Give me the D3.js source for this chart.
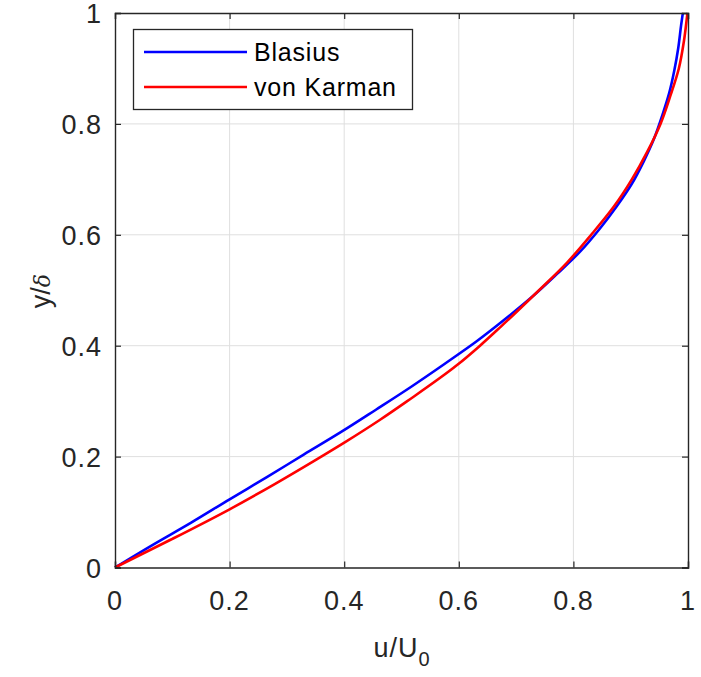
<!DOCTYPE html>
<html>
<head>
<meta charset="utf-8">
<script src="https://cdn.jsdelivr.net/npm/d3@7"></script>
<style>
  body { margin: 0; background: #fff; }
  svg { display: block; font-family: "Liberation Sans", Arial, sans-serif; }
</style>
</head>
<body>
<div id="chart"></div>
<script>
// Blasius profile (u/U0, y/delta)
const blasiusU = [0, 0.066, 0.133, 0.200, 0.265, 0.330, 0.394, 0.456, 0.517, 0.575, 0.630, 0.681, 0.729, 0.772, 0.812, 0.846, 0.876, 0.902, 0.923, 0.941, 0.955, 0.967, 0.976, 0.983, 0.988, 0.991];
const blasiusY = [0, 0.041, 0.081, 0.123, 0.163, 0.204, 0.244, 0.285, 0.326, 0.367, 0.407, 0.448, 0.489, 0.530, 0.570, 0.611, 0.652, 0.692, 0.733, 0.774, 0.815, 0.855, 0.896, 0.937, 0.978, 1.0];

// von Karman profile
const karmanU = [0, 0.097, 0.200, 0.278, 0.352, 0.403, 0.462, 0.510, 0.597, 0.637, 0.673, 0.722, 0.740, 0.789, 0.831, 0.870, 0.902, 0.929, 0.952, 0.969, 0.984, 0.993, 0.999];
const karmanY = [0, 0.050, 0.105, 0.150, 0.195, 0.227, 0.266, 0.300, 0.365, 0.400, 0.434, 0.482, 0.500, 0.550, 0.600, 0.650, 0.700, 0.750, 0.800, 0.850, 0.900, 0.950, 1.0];

const xTicks = [0, 0.2, 0.4, 0.6, 0.8, 1];
const yTicks = [0, 0.2, 0.4, 0.6, 0.8, 1];
const xTickLabels = ["0", "0.2", "0.4", "0.6", "0.8", "1"];
const yTickLabels = ["0", "0.2", "0.4", "0.6", "0.8", "1"];

const seriesNames = ["Blasius", "von Karman"];
const seriesColors = ["#0000ff", "#ff0000"];

const W = 701, H = 677;
const plot = { left: 115, right: 688, top: 13, bottom: 567.5 };

const svg = d3.select("#chart")
  .append("svg")
  .attr("width", W)
  .attr("height", H);

const x = d3.scaleLinear().domain([0, 1]).range([plot.left, plot.right]);
const y = d3.scaleLinear().domain([0, 1]).range([plot.bottom, plot.top]);

const axisColor = "#262626";
const tickFont = 27;

// grid
svg.append("g")
  .selectAll("line")
  .data(xTicks.slice(1, -1))
  .enter()
  .append("line")
  .attr("x1", d => x(d)).attr("x2", d => x(d))
  .attr("y1", plot.top).attr("y2", plot.bottom)
  .attr("stroke", "#dfdfdf")
  .attr("stroke-width", 1);

svg.append("g")
  .selectAll("line")
  .data(yTicks.slice(1, -1))
  .enter()
  .append("line")
  .attr("y1", d => y(d)).attr("y2", d => y(d))
  .attr("x1", plot.left).attr("x2", plot.right)
  .attr("stroke", "#dfdfdf")
  .attr("stroke-width", 1);

// curves
const series = [
  blasiusU.map((u, i) => ({ u: u, y: blasiusY[i] })),
  karmanU.map((u, i) => ({ u: u, y: karmanY[i] }))
];

const line = d3.line()
  .x(d => x(d.u))
  .y(d => y(d.y))
  .curve(d3.curveMonotoneY);

series.forEach((s, i) => {
  svg.append("path")
    .attr("fill", "none")
    .attr("stroke", seriesColors[i])
    .attr("stroke-width", 2.6)
    .attr("d", line(s));
});

// axes (box with mirrored inside ticks)
const tickLen = 6;
const xAxisB = d3.axisBottom(x).tickValues(xTicks).tickSize(-tickLen).tickFormat("");
const xAxisT = d3.axisTop(x).tickValues(xTicks).tickSize(-tickLen).tickFormat("");
const yAxisL = d3.axisLeft(y).tickValues(yTicks).tickSize(-tickLen).tickFormat("");
const yAxisR = d3.axisRight(y).tickValues(yTicks).tickSize(-tickLen).tickFormat("");

[
  [xAxisB, `translate(0,${plot.bottom})`],
  [xAxisT, `translate(0,${plot.top})`],
  [yAxisL, `translate(${plot.left},0)`],
  [yAxisR, `translate(${plot.right},0)`]
].forEach(([ax, tr]) => {
  const g = svg.append("g").attr("transform", tr).call(ax);
  g.select(".domain").attr("stroke", axisColor).attr("stroke-width", 1.4);
  g.selectAll(".tick line").attr("stroke", axisColor).attr("stroke-width", 1.2);
});

// tick labels
svg.append("g")
  .selectAll("text")
  .data(xTicks)
  .enter()
  .append("text")
  .attr("x", d => x(d))
  .attr("y", 610)
  .attr("text-anchor", "middle")
  .attr("font-size", tickFont)
  .attr("letter-spacing", 1)
  .attr("fill", axisColor)
  .text((d, i) => xTickLabels[i]);

svg.append("g")
  .selectAll("text")
  .data(yTicks)
  .enter()
  .append("text")
  .attr("x", 102)
  .attr("y", d => y(d) + 10)
  .attr("text-anchor", "end")
  .attr("font-size", tickFont)
  .attr("letter-spacing", 1)
  .attr("fill", axisColor)
  .text((d, i) => yTickLabels[i]);

// axis labels
const xl = svg.append("text")
  .attr("x", 402)
  .attr("y", 657)
  .attr("text-anchor", "middle")
  .attr("font-size", tickFont)
  .attr("letter-spacing", 1)
  .attr("fill", axisColor);
xl.append("tspan").text("u/U");
xl.append("tspan").attr("font-size", 20).attr("dy", 9).text("0");

const yl = svg.append("text")
  .attr("transform", "translate(50,291) rotate(-90)")
  .attr("text-anchor", "middle")
  .attr("font-size", tickFont)
  .attr("fill", axisColor);
yl.append("tspan").text("y/");
yl.append("tspan")
  .attr("font-family", "'DejaVu Serif', 'Liberation Serif', serif")
  .attr("font-style", "italic")
  .attr("font-size", 22)
  .text("δ");

// legend
const legend = svg.append("g");
legend.append("rect")
  .attr("x", 133.5).attr("y", 29.5)
  .attr("width", 279).attr("height", 80)
  .attr("fill", "#fff")
  .attr("stroke", axisColor)
  .attr("stroke-width", 1.3);

seriesNames.forEach((name, i) => {
  const ly = 52 + i * 35;
  legend.append("line")
    .attr("x1", 144).attr("x2", 247)
    .attr("y1", ly).attr("y2", ly)
    .attr("stroke", seriesColors[i])
    .attr("stroke-width", 2.6);
  legend.append("text")
    .attr("x", 254)
    .attr("y", ly + 9)
    .attr("font-size", 25)
    .attr("letter-spacing", 0.8)
    .attr("fill", "#000")
    .text(name);
});
</script>
</body>
</html>
